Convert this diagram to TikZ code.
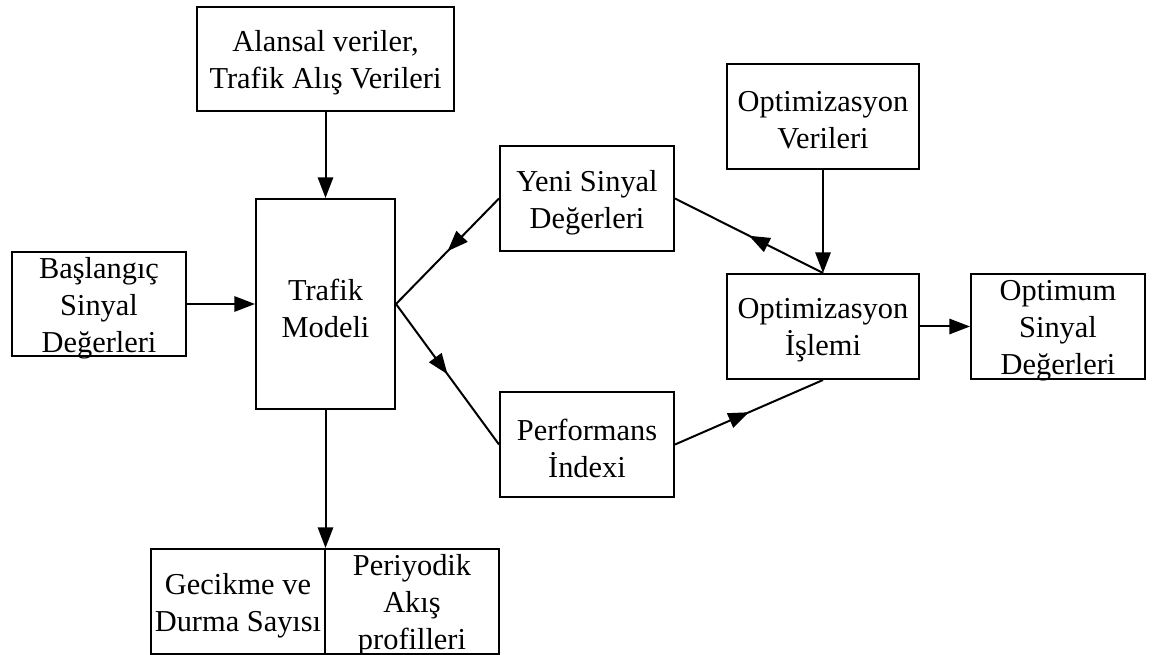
\documentclass[tikz,border=0pt]{standalone}
\usepackage{fontspec}
\setmainfont{Liberation Serif}[Ligatures=NoCommon]
\usetikzlibrary{arrows.meta,decorations.markings}

\tikzset{
  box/.style={draw, line width=1.5pt, inner sep=0pt},
  txt/.style={align=center, inner sep=0pt, yshift=-3pt,
              font=\fontsize{22.8pt}{27.75pt}\selectfont},
  conn/.style={line width=1.5pt},
  tip/.style={-{Triangle[length=15.5pt,width=11.5pt]}},
  midarrow/.style={postaction={decorate},
    decoration={markings, mark=at position 0.5 with
      {\arrow{Triangle[length=15.5pt,width=11.5pt]}}}}
}

\begin{document}
\begin{tikzpicture}[x=0.75pt, y=-0.75pt]
  \useasboundingbox (0,0) rectangle (1152,655);

  % blocks: fixed-size frames, text set as a centred label
  \node[box, minimum width=192.75pt, minimum height=78pt,
        label={[txt]center:{Alansal veriler,\\Trafik Alış Verileri}}] (alan) at (325.5,59) {};
  \node[box, minimum width=104.25pt, minimum height=157.5pt,
        label={[txt]center:{Trafik\\Modeli}}] (trafik) at (325.5,304) {};
  \node[box, minimum width=130.5pt, minimum height=78pt,
        label={[txt]center:{Başlangıç\\Sinyal\\Değerleri}}] (basl) at (99,304) {};
  \node[box, minimum width=130.5pt, minimum height=78.75pt,
        label={[txt]center:{Yeni Sinyal\\Değerleri}}] (yeni) at (587,198.5) {};
  \node[box, minimum width=130.5pt, minimum height=78.75pt,
        label={[txt]center:{Performans\\İndexi}}] (perf) at (587,444.5) {};
  \node[box, minimum width=144pt, minimum height=78.75pt,
        label={[txt]center:{Optimizasyon\\Verileri}}] (optver) at (823,116.5) {};
  \node[box, minimum width=144pt, minimum height=78.75pt,
        label={[txt]center:{Optimizasyon\\İşlemi}}] (islem) at (823,326.5) {};
  \node[box, minimum width=130.5pt, minimum height=78.75pt,
        label={[txt]center:{Optimum\\Sinyal\\Değerleri}}] (optimum) at (1058,326.5) {};
  \node[box, minimum width=130.5pt, minimum height=78.75pt,
        label={[txt]center:{Gecikme ve\\Durma Sayısı}}] (gecikme) at (238,601.5) {};
  \node[box, minimum width=130.5pt, minimum height=78.75pt,
        label={[txt]center:{Periyodik\\Akış\\profilleri}}] (akis) at (412,601.5) {};

  % straight connectors
  \draw[conn, tip] (alan.south) -- (trafik.north);
  \draw[conn, tip] (basl.east) -- (trafik.west);
  \draw[conn, tip] (trafik.south) -- (trafik.south |- akis.north);
  \draw[conn, tip] (optver.south) -- (islem.north);
  \draw[conn, tip] (islem.east) -- (optimum.west);

  % slanted connectors with arrowheads halfway
  \draw[conn, midarrow] (yeni.west) -- (trafik.east);
  \draw[conn, midarrow] (trafik.east) -- (perf.west);
  \draw[conn, midarrow] (islem.north) -- (yeni.east);
  \draw[conn, midarrow] (perf.east) -- (islem.south);
\end{tikzpicture}
\end{document}
